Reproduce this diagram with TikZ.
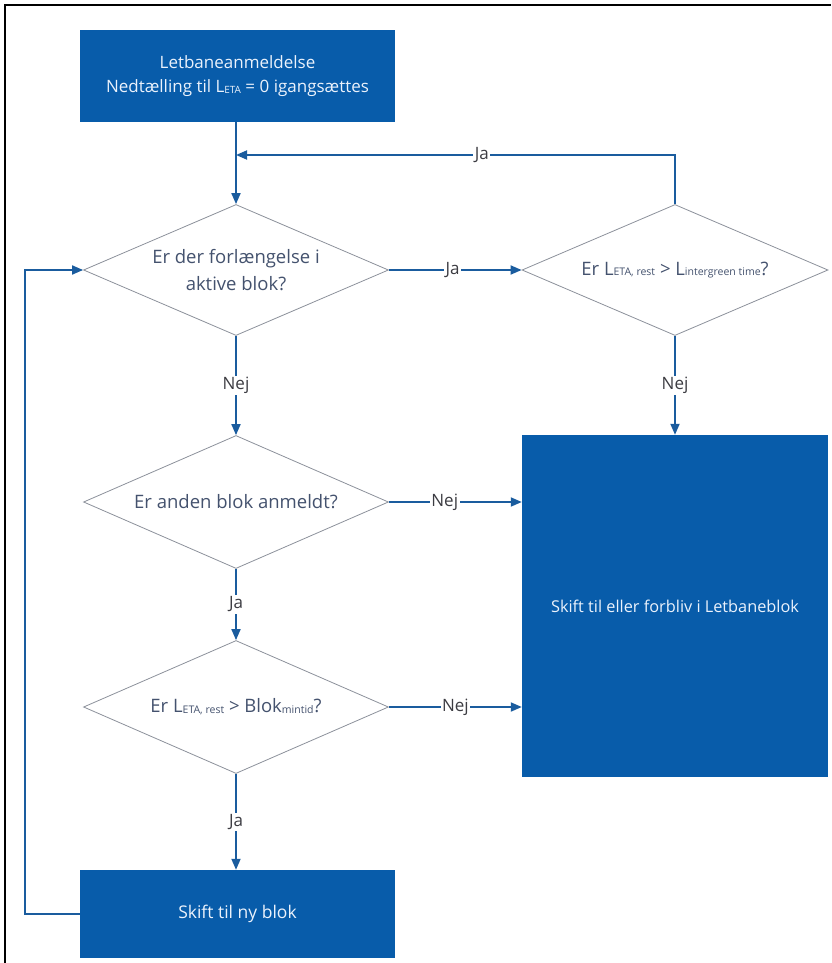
\documentclass[tikz,border=0pt]{standalone}
\usepackage{fontspec}
\setmainfont{Open Sans}
\usetikzlibrary{shapes.geometric,arrows.meta}
\definecolor{boxblue}{RGB}{8,92,170}
\definecolor{arrowblue}{RGB}{26,92,158}
\definecolor{dgray}{RGB}{140,145,155}
\definecolor{qtext}{RGB}{68,82,110}
\definecolor{lbl}{RGB}{60,60,66}
\definecolor{boxtext}{RGB}{235,242,252}
\newcommand{\lsub}[1]{\raisebox{-0.8pt}{\fontsize{10.5}{11}\selectfont #1}}
\newcommand{\lsubs}[1]{\raisebox{-0.8pt}{\fontsize{10}{11}\selectfont #1}}
\begin{document}
\begin{tikzpicture}[x=1pt,y=-1pt,
  bluebox/.style={rectangle,fill=boxblue,text=boxtext,inner sep=0pt,align=center},
  decision/.style={diamond,draw=dgray,line width=0.8pt,fill=white,inner sep=0pt},
  qlabel/.style={text=qtext,inner sep=0pt,font=\fontsize{18.5}{27}\selectfont,align=center},
  flow/.style={draw=arrowblue,line width=1.8pt,-{Triangle[length=11pt,width=9pt]}},
  lab/.style={fill=white,text=lbl,inner sep=1.5pt,font=\fontsize{17}{19}\selectfont}]
\useasboundingbox (0,0) rectangle (831,963);
% frame
\draw[black,line width=1.2pt] (5,963) -- (5,5) -- (831,5);
% nodes
\node[bluebox,minimum width=315pt,minimum height=92pt,font=\fontsize{17}{24}\selectfont] (start) at (237.5,76) {Letbaneanmeldelse\\Nedtælling til L\lsubs{ETA} = 0 igangsættes};
\node[decision,minimum width=305pt,minimum height=131pt] (d1) at (236,270) {};
\node[qlabel] (t1) at (d1.center) {Er der forlængelse i\\aktive blok?};
\node[decision,minimum width=306pt,minimum height=131pt] (d2) at (675,270) {};
\node[qlabel] (t2) at (d2.center) {Er L\lsub{ETA, rest} > L\lsub{intergreen time}?};
\node[decision,minimum width=305pt,minimum height=133pt] (d3) at (236,502) {};
\node[qlabel] (t3) at (d3.center) {Er anden blok anmeldt?};
\node[decision,minimum width=305pt,minimum height=133pt] (d4) at (236,707) {};
\node[qlabel] (t4) at (d4.center) {Er L\lsub{ETA, rest} > Blok\lsub{mintid}?};
\node[bluebox,minimum width=306pt,minimum height=342pt,font=\fontsize{16.3}{20}\selectfont] (big) at (675,606) {Skift til eller forbliv i Letbaneblok};
\node[bluebox,minimum width=315pt,minimum height=88pt,font=\fontsize{17.5}{20}\selectfont] (end) at (237.5,914) {Skift til ny blok};
\coordinate (lb) at (25,914);
% connectors
\draw[flow] (start.south -| d1.north) -- (d1.north);
\draw[flow] (d2.north) |- node[lab,pos=0.72]{Ja} (d1.north |- 0,155);
\draw[flow] (d1.east) -- node[lab,pos=0.48]{Ja} (d2.west);
\draw[flow] (d2.south) -- node[lab]{Nej} (big.north -| d2.south);
\draw[flow] (d1.south) -- node[lab]{Nej} (d3.north);
\draw[flow] (d3.east) -- node[lab,pos=0.42]{Nej} (big.west |- d3.east);
\draw[flow] (d3.south) -- node[lab]{Ja} (d4.north);
\draw[flow] (d4.east) -- node[lab,pos=0.5]{Nej} (big.west |- d4.east);
\draw[flow] (d4.south) -- node[lab]{Ja} (end.north -| d4.south);
\draw[flow] (end.west) -- (lb) |- (d1.west);
\end{tikzpicture}
\end{document}
